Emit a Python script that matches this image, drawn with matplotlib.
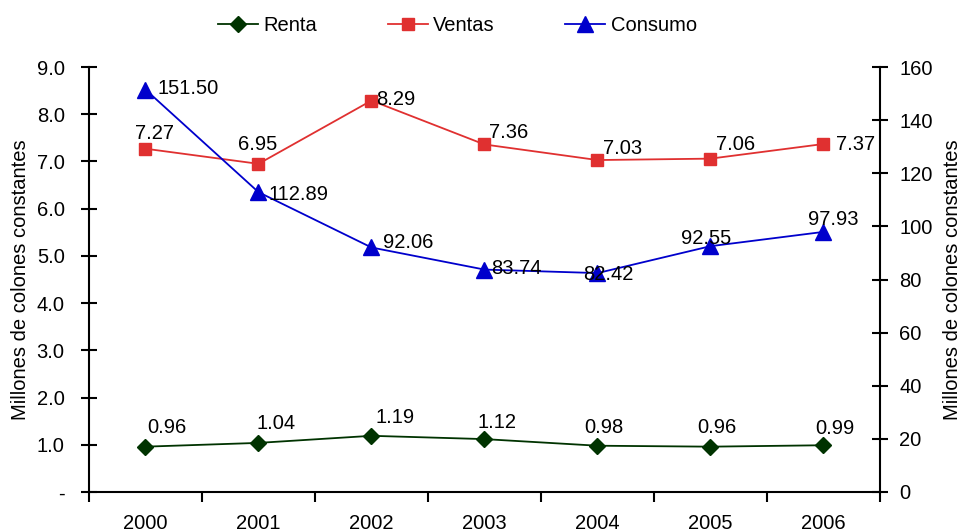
import matplotlib.pyplot as plt

plt.rcParams['font.family'] = ['Liberation Sans', 'DejaVu Sans']

years = ['2000', '2001', '2002', '2003', '2004', '2005', '2006']
renta = [0.96, 1.04, 1.19, 1.12, 0.98, 0.96, 0.99]
ventas = [7.27, 6.95, 8.29, 7.36, 7.03, 7.06, 7.37]
consumo = [151.50, 112.89, 92.06, 83.74, 82.42, 92.55, 97.93]

# label offsets in pixels (dx to text left edge, dy to text centre) from each point
renta_off = [(2, 19), (-2, 19), (4, 18), (-7, 17), (-13, 18), (-13, 19), (-8, 17)]
ventas_off = [(-10, 15), (-20, 19), (5, 1), (5, 12), (6, 12), (6, 14), (13, -1)]
consumo_off = [(12, 1), (10, -2), (12, 5), (7, 1), (-14, -1), (-29, 8), (-15, 12)]

x = list(range(len(years)))

fig = plt.figure(figsize=(9.63, 5.32), dpi=100)
ax = fig.add_axes([0.0924, 0.0752, 0.8214, 0.7988])
ax2 = ax.twinx()

c_renta = '#003300'
c_ventas = '#E03030'
c_consumo = '#0000CC'

l1, = ax.plot(x, renta, color=c_renta, marker='D', markersize=8, lw=1.3, label='Renta')
l2, = ax.plot(x, ventas, color=c_ventas, marker='s', markersize=8.5, lw=1.3, label='Ventas')
l3, = ax2.plot(x, consumo, color=c_consumo, marker='^', markersize=11, lw=1.3, label='Consumo')

fs = 14.5
for xi, v, o in zip(x, renta, renta_off):
    ax.annotate(f'{v:.2f}', (xi, v), xytext=o, textcoords='offset pixels',
                ha='left', va='center', fontsize=fs)
for xi, v, o in zip(x, ventas, ventas_off):
    ax.annotate(f'{v:.2f}', (xi, v), xytext=o, textcoords='offset pixels',
                ha='left', va='center', fontsize=fs)
for xi, v, o in zip(x, consumo, consumo_off):
    ax2.annotate(f'{v:.2f}', (xi, v), xytext=o, textcoords='offset pixels',
                 ha='left', va='center', fontsize=fs)

ax.set_xlim(-0.5, 6.5)
ax.set_ylim(0, 9)
ax2.set_ylim(0, 160)

ax.set_yticks(range(10))
ax.set_yticklabels(['-'] + [f'{i:.1f}' for i in range(1, 10)], fontsize=fs)
ax2.set_yticks(range(0, 161, 20))
ax2.set_yticklabels([str(i) for i in range(0, 161, 20)], fontsize=fs)

ax.set_xticks([i - 0.5 for i in range(8)])
ax.set_xticklabels([])
ax.set_xticks(x, minor=True)
ax.set_xticklabels(years, minor=True, fontsize=fs)
ax.tick_params(axis='x', which='major', direction='out', length=7, width=1.5)
ax.tick_params(axis='x', which='minor', length=0, pad=16)
ax.tick_params(axis='y', direction='inout', length=11, width=1.5, pad=12)
ax2.tick_params(axis='y', direction='inout', length=11, width=1.5, pad=8.5)

for a in (ax, ax2):
    a.spines['top'].set_visible(False)
    for s in ('left', 'right', 'bottom'):
        a.spines[s].set_linewidth(1.5)
ax.spines['right'].set_visible(False)
ax2.spines['left'].set_visible(False)
ax2.spines['bottom'].set_visible(False)

ax.set_ylabel('Millones de colones constantes', fontsize=fs, labelpad=5)
ax2.set_ylabel('Millones de colones constantes', fontsize=fs, labelpad=7)

fig.legend(handles=[l1, l2, l3], loc='center', bbox_to_anchor=(0.475, 0.952),
           ncol=3, frameon=False, fontsize=fs, columnspacing=3.5,
           handlelength=2.0, handletextpad=0.25)

fig.savefig('out.png', dpi=100)
